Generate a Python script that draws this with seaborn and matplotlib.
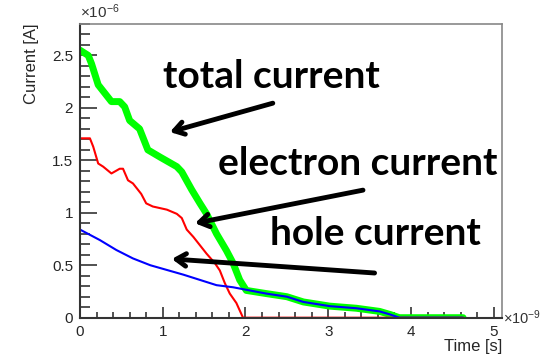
import numpy as np
import pandas as pd
import matplotlib
matplotlib.use('Agg')
import matplotlib.pyplot as plt
import seaborn as sns
from matplotlib.ticker import MultipleLocator

# Data (time in ns, current in uA)
t_total = [0, 0.10, 0.14, 0.22, 0.30, 0.38, 0.48, 0.54, 0.60, 0.72, 0.76, 0.82, 0.97, 1.17, 1.23,
           1.35, 1.45, 1.53, 1.65, 1.77, 1.85, 1.93, 2.01, 2.25, 2.50, 2.70, 3.02, 3.34, 3.62,
           3.75, 3.86, 4.63]
i_total = [2.55, 2.50, 2.42, 2.22, 2.14, 2.06, 2.06, 2.01, 1.88, 1.80, 1.72, 1.60, 1.53, 1.44, 1.39,
           1.22, 1.09, 0.99, 0.80, 0.64, 0.52, 0.36, 0.26, 0.23, 0.20, 0.15, 0.11, 0.09, 0.06,
           0.03, 0.0, 0.0]

t_elec = [0, 0.12, 0.16, 0.22, 0.28, 0.38, 0.48, 0.52, 0.58, 0.64, 0.74, 0.80, 0.88, 1.05, 1.17,
          1.23, 1.29, 1.37, 1.45, 1.53, 1.63, 1.69, 1.75, 1.81, 1.89, 1.97, 4.63]
i_elec = [1.71, 1.71, 1.63, 1.47, 1.44, 1.375, 1.42, 1.42, 1.31, 1.28, 1.18, 1.09, 1.06, 1.03, 0.99,
          0.95, 0.84, 0.77, 0.69, 0.61, 0.52, 0.45, 0.33, 0.23, 0.14, 0.0, 0.0]

t_hole = [0, 0.24, 0.44, 0.64, 0.85, 1.05, 1.25, 1.45, 1.65, 1.85, 2.05, 2.25, 2.50, 2.70, 3.02,
          3.34, 3.62, 3.75, 3.86, 4.63]
i_hole = [0.84, 0.74, 0.645, 0.565, 0.50, 0.455, 0.41, 0.36, 0.31, 0.29, 0.26, 0.23, 0.20, 0.15, 0.11,
          0.09, 0.06, 0.03, 0.0, 0.0]

labels = ['total current', 'electron current', 'hole current']

sns.set_style('ticks', {'xtick.direction': 'in', 'ytick.direction': 'in'})
plt.rcParams['font.family'] = ['Liberation Sans', 'DejaVu Sans']
plt.rcParams['mathtext.fontset'] = 'custom'
plt.rcParams['mathtext.rm'] = 'Liberation Sans'
plt.rcParams['mathtext.it'] = 'Liberation Sans:italic'

fig = plt.figure(figsize=(5.49, 3.58), dpi=100)
ax = fig.add_axes([0.1457, 0.1126, 0.7687, 0.8204])

sns.lineplot(x=t_total, y=i_total, color='#00ff00', linewidth=5, sort=False, estimator=None, ax=ax)
sns.lineplot(x=t_elec, y=i_elec, color='#ff0000', linewidth=1.5, sort=False, estimator=None, ax=ax)
sns.lineplot(x=t_hole, y=i_hole, color='#0000ff', linewidth=1.5, sort=False, estimator=None, ax=ax)

ax.set_xlim(0, 5.1)
ax.set_ylim(0, 2.8)
ax.xaxis.set_major_locator(MultipleLocator(1))
ax.xaxis.set_minor_locator(MultipleLocator(0.2))
ax.yaxis.set_major_locator(MultipleLocator(0.5))
ax.yaxis.set_minor_locator(MultipleLocator(0.1))
ax.set_xticklabels([f'{v:g}' for v in ax.get_xticks()])
ax.set_yticklabels([f'{v:g}' for v in ax.get_yticks()])
ax.tick_params(which='both', direction='in', bottom=True, left=True, top=False, right=False)
ax.tick_params(which='major', length=8, width=1.2, color='#333333', labelsize=11, pad=5)
ax.tick_params(axis='y', which='major', length=12)
ax.tick_params(which='minor', length=4, width=1.2, color='#333333')
ax.tick_params(axis='y', which='minor', length=7)

for s in ['left', 'bottom']:
    ax.spines[s].set_color('#333333')
    ax.spines[s].set_linewidth(1.5)
for s in ['top', 'right']:
    ax.spines[s].set_visible(True)
    ax.spines[s].set_color('#888888')
    ax.spines[s].set_linewidth(1.2)

ax.set_xlabel('')
ax.set_ylabel('')
fig.text(0.058, 0.933, 'Current [A]', rotation=90, ha='center', va='top', fontsize=12)
fig.text(0.914, 0.01, 'Time [s]', ha='right', va='bottom', fontsize=12)
fig.text(0.1457, 0.94, r'$\times10^{-6}$', ha='left', va='bottom', fontsize=11, color='#333333')
fig.text(0.917, 0.113, r'$\times10^{-9}$', ha='left', va='center', fontsize=10.5, color='#333333')

# annotations
afont = dict(family='Lato', weight='bold', fontsize=28, color='black')
arrow = dict(arrowstyle='->,head_length=0.7,head_width=0.45', lw=3.5, color='black',
             shrinkA=0, shrinkB=0)
ax.text(1.00, 2.19, labels[0], ha='left', va='baseline', **afont)
ax.annotate('', xy=(1.087, 1.77), xytext=(2.33, 2.045), arrowprops=arrow)
ax.text(1.667, 1.36, labels[1], ha='left', va='baseline', **afont)
ax.annotate('', xy=(1.39, 0.90), xytext=(3.42, 1.216), arrowprops=arrow)
ax.text(2.295, 0.69, labels[2], ha='left', va='baseline', **afont)
ax.annotate('', xy=(1.11, 0.56), xytext=(3.56, 0.426), arrowprops=arrow)

fig.savefig('out.png', dpi=100)
